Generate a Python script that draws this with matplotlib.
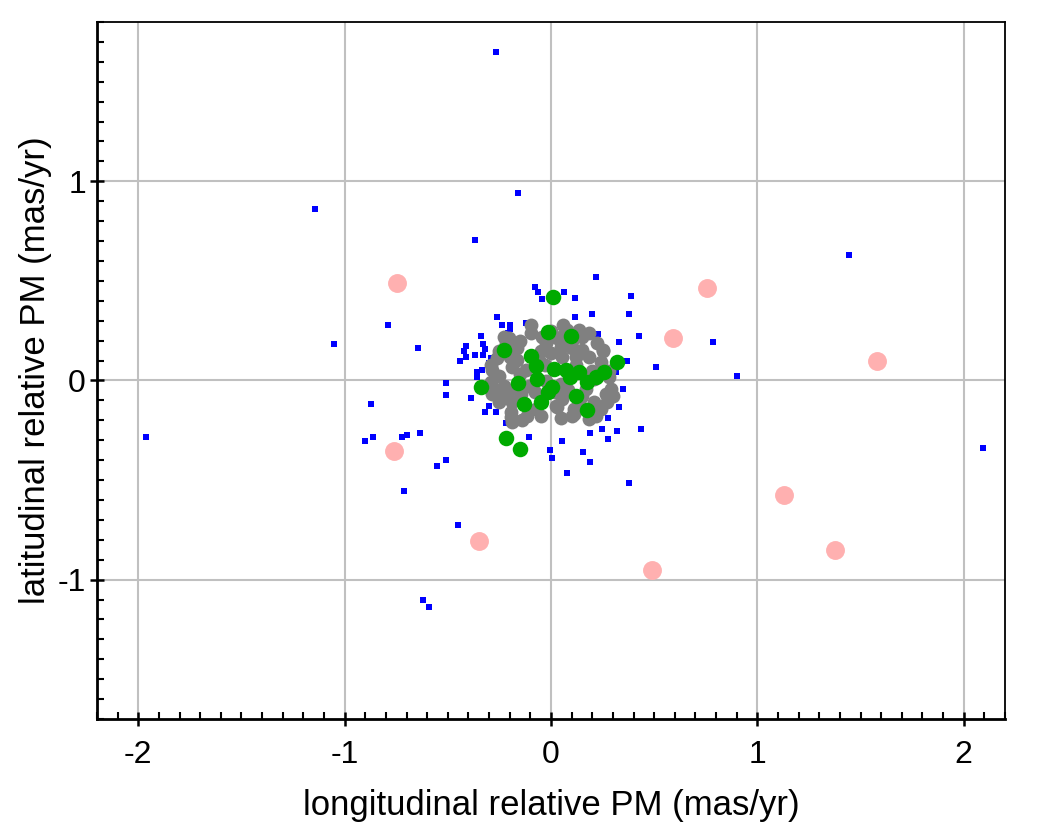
import matplotlib
matplotlib.use('Agg')
import numpy as np
import matplotlib.pyplot as plt
from matplotlib.ticker import MultipleLocator, FuncFormatter

# field stars (blue squares)
blue_x = [-0.266, -0.159, -1.145, -0.367, 1.444, -1.053, -0.792, -0.643, -1.961, -0.874,
          -0.903, -0.865, -0.720, -0.700, -0.633, -0.551, -0.507, -0.710, -0.449, -0.618,
          -0.589, 2.092, 0.903, 0.783, 0.507, 0.425, 0.435, 0.386, 0.377, 0.217,
          0.063, 0.116, 0.116, 0.198, -0.077, -0.063, -0.043, -0.261, -0.237, -0.198,
          -0.198, -0.208, -0.121, 0.179, 0.227, 0.329, -0.338, -0.329, -0.411, -0.319,
          -0.420, -0.367, -0.329, -0.411, -0.290, -0.440, -0.300, 0.367, 0.314, -0.357,
          -0.333, -0.357, -0.507, -0.507, -0.386, 0.348, -0.300, -0.319, -0.266, 0.329,
          0.275, -0.217, 0.246, 0.319, 0.188, 0.275, -0.106, 0.053, 0.155, -0.005,
          0.005, 0.188, 0.077, 0.377]
blue_y = [1.65, 0.94, 0.86, 0.705, 0.63, 0.185, 0.28, 0.165, -0.285, -0.12,
          -0.305, -0.285, -0.285, -0.275, -0.265, -0.43, -0.40, -0.555, -0.725, -1.10,
          -1.14, -0.34, 0.02, 0.195, 0.07, 0.225, -0.245, 0.425, 0.335, 0.52,
          0.445, 0.415, 0.32, 0.335, 0.47, 0.445, 0.41, 0.32, 0.28, 0.28,
          0.26, 0.24, 0.29, 0.245, 0.235, 0.195, 0.225, 0.185, 0.175, 0.16,
          0.15, 0.13, 0.13, 0.12, 0.115, 0.10, 0.09, 0.10, 0.045, 0.04,
          0.055, 0.015, -0.015, -0.075, -0.09, -0.045, -0.13, -0.16, -0.16, -0.135,
          -0.19, -0.215, -0.245, -0.255, -0.265, -0.295, -0.285, -0.305, -0.36, -0.35,
          -0.39, -0.41, -0.465, -0.515]

# cluster members (gray)
gray_x = [-0.097, -0.097, -0.203, -0.217, 0.135, 0.150, 0.184, 0.222, 0.048, 0.101,
          0.150, -0.024, 0.000, 0.053, 0.121, 0.184, 0.242, -0.164, -0.188, -0.285,
          -0.251, -0.290, -0.285, -0.242, -0.203, -0.188, -0.193, -0.188, -0.072, 0.024,
          0.053, 0.111, 0.111, 0.135, 0.208, 0.271, 0.290, 0.266, 0.242, -0.106,
          -0.121, 0.048, 0.169, -0.024, -0.261, -0.290, 0.029, -0.043, -0.227, -0.164,
          0.232, 0.184, 0.101, 0.029, -0.251, -0.193, -0.116, -0.058, -0.145, 0.208,
          0.280, 0.077, 0.251,
          -0.25, -0.15, -0.05, 0.00, 0.05, 0.10, 0.20, 0.25, 0.28, -0.23,
          -0.15, -0.08, 0.02, 0.08, 0.15, 0.22, -0.05, 0.05, -0.14, -0.27,
          0.30, 0.12, -0.03, -0.20, 0.06]
gray_y = [0.28, 0.24, 0.215, 0.19, 0.255, 0.22, 0.24, 0.19, 0.17, 0.165,
          0.155, 0.19, 0.14, 0.12, 0.12, 0.12, 0.095, 0.105, 0.07, 0.055,
          0.02, -0.01, -0.07, -0.095, -0.055, -0.11, -0.185, -0.21, -0.145, -0.13,
          -0.095, -0.145, -0.17, -0.11, -0.11, -0.11, -0.045, -0.07, -0.145, -0.03,
          0.055, -0.02, -0.045, -0.005, 0.115, 0.08, 0.215, 0.22, 0.22, 0.165,
          -0.145, -0.195, -0.18, -0.135, -0.11, -0.16, -0.18, 0.105, -0.07, 0.005,
          0.015, 0.255, 0.155,
          0.15, 0.20, 0.15, 0.25, 0.22, 0.20, 0.05, 0.15, 0.05, -0.03,
          0.03, -0.06, -0.06, -0.05, -0.08, -0.18, -0.18, -0.19, -0.20, -0.05,
          -0.08, 0.08, 0.08, 0.12, 0.28]

# selected members (green)
green_x = [0.010, -0.014, 0.097, -0.227, 0.319, -0.097, -0.072, 0.014, 0.072, 0.135,
           0.256, 0.217, 0.174, 0.092, -0.068, -0.159, -0.338, -0.014, 0.121, -0.130,
           -0.048, 0.174, -0.217, -0.150, 0.005]
green_y = [0.42, 0.245, 0.225, 0.155, 0.095, 0.125, 0.075, 0.06, 0.055, 0.04,
           0.04, 0.015, -0.01, 0.015, 0.005, -0.015, -0.035, -0.06, -0.08, -0.12,
           -0.11, -0.15, -0.29, -0.345, -0.035]

# outliers (pink)
pink_x = [-0.744, -0.763, -0.348, 0.758, 0.589, 1.580, 1.130, 1.377, 0.488]
pink_y = [0.49, -0.355, -0.805, 0.465, 0.215, 0.10, -0.575, -0.85, -0.95]

plt.rcParams['font.family'] = ['Liberation Sans', 'DejaVu Sans']

fig = plt.figure(figsize=(10.42, 8.34), dpi=100)
ax = fig.add_axes([0.0931, 0.1379, 0.8714, 0.8357])

ax.scatter(blue_x, blue_y, marker='s', s=24, color='#0000ff', linewidths=0, zorder=3)
ax.scatter(gray_x, gray_y, marker='o', s=100, color='#808080', linewidths=0, zorder=4)
ax.scatter(green_x, green_y, marker='o', s=125, color='#00aa00', linewidths=0, zorder=5)
ax.scatter(pink_x, pink_y, marker='o', s=185, color='#ffb0b0', linewidths=0, zorder=6)

ax.set_xlim(-2.2, 2.2)
ax.set_ylim(-1.7, 1.8)
ax.xaxis.set_major_locator(MultipleLocator(1))
ax.yaxis.set_major_locator(MultipleLocator(1))
ax.xaxis.set_minor_locator(MultipleLocator(0.1))
ax.yaxis.set_minor_locator(MultipleLocator(0.1))
fmt = FuncFormatter(lambda v, p: f'{v:.0f}' if abs(v) > 1e-9 else '0')
ax.xaxis.set_major_formatter(fmt)
ax.yaxis.set_major_formatter(fmt)
ax.grid(True, which='major', color='#c0c0c0', linewidth=1.5, zorder=0)
ax.set_axisbelow(True)

ax.tick_params(which='major', direction='inout', length=10, width=1.8, labelsize=23,
               top=False, right=False)
ax.tick_params(axis='x', which='major', pad=10)
ax.tick_params(axis='y', which='major', pad=3)
ax.tick_params(which='minor', direction='in', length=5, width=1.5, top=False, right=False)
for side in ['left', 'bottom']:
    ax.spines[side].set_linewidth(2)
for side in ['top', 'right']:
    ax.spines[side].set_linewidth(1.3)

ax.set_xlabel('longitudinal relative PM (mas/yr)', fontsize=25, labelpad=14)
ax.set_ylabel('latitudinal relative PM (mas/yr)', fontsize=25, labelpad=4)

fig.savefig('out.png', dpi=100)
plt.close(fig)
